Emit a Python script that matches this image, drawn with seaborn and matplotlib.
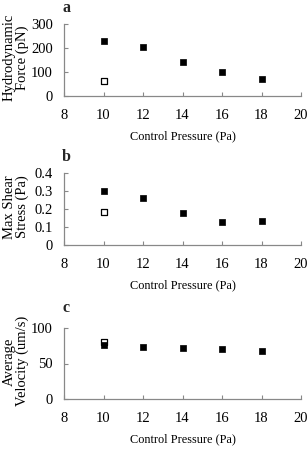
import matplotlib
matplotlib.use("Agg")
import matplotlib.pyplot as plt
import seaborn as sns
import pandas as pd

sns.set_theme(style="white")
plt.rcParams['font.family'] = ['Liberation Serif', 'DejaVu Serif']

pressure = [10, 12, 14, 16, 18]
force_filled = [231, 204, 143, 101, 69]
force_open = [61]
stress_filled = [0.30, 0.26, 0.175, 0.13, 0.135]
stress_open = [0.185]
velocity_filled = [76.5, 73.6, 72, 70, 67.5]
velocity_open = [80]
open_pressure = [10]

panels = [
    ("a", "Hydrodynamic\nForce (pN)", force_filled, force_open, (0, 300), [0, 100, 200, 300], ["0", "100", "200", "300"]),
    ("b", "Max Shear\nStress (Pa)", stress_filled, stress_open, (0, 0.4), [0, 0.1, 0.2, 0.3, 0.4], ["0", "0.1", "0.2", "0.3", "0.4"]),
    ("c", "Average\nVelocity (um/s)", velocity_filled, velocity_open, (0, 100), [0, 50, 100], ["0", "50", "100"]),
]

W, H = 307, 449
fig = plt.figure(figsize=(W / 100, H / 100), dpi=100)
rects = [(64, 24, 96), (64, 173, 245), (64, 328, 399)]
label_base = [12.5, 161, 312]
xticks = [8, 10, 12, 14, 16, 18, 20]

for (label, ylab, filled, opn, ylim, yt, ytl), (l, t, b), lb in zip(panels, rects, label_base):
    ax = fig.add_axes([l / W, 1 - b / H, (301 - l) / W, (b - t) / H])
    df = pd.DataFrame({"x": pressure, "y": filled})
    dfo = pd.DataFrame({"x": open_pressure, "y": opn})
    sns.scatterplot(data=dfo, x="x", y="y", ax=ax, marker="s", s=15,
                    facecolor="white", edgecolor="black", linewidth=0.9, zorder=3)
    sns.scatterplot(data=df, x="x", y="y", ax=ax, marker="s", s=20,
                    color="black", edgecolor="black", linewidth=0.5, zorder=4)
    ax.set_xlim(8, 20)
    ax.set_ylim(*ylim)
    ax.set_xticks(xticks)
    ax.set_xticklabels([str(v) for v in xticks])
    ax.set_yticks(yt)
    ax.set_yticklabels(ytl)
    for s in ["top", "right"]:
        ax.spines[s].set_visible(False)
    for s in ["left", "bottom"]:
        ax.spines[s].set_color("#888888")
        ax.spines[s].set_linewidth(0.9)
    ax.tick_params(axis="both", direction="in", length=3, width=0.8, color="#888888",
                   labelsize=10.5, labelcolor="black", left=True, bottom=True)
    ax.tick_params(axis="x", pad=9.5)
    ax.tick_params(axis="y", pad=8)
    ax.set_xlabel("Control Pressure (Pa)", fontsize=8.8, labelpad=6, color="black")
    ax.set_ylabel(ylab, fontsize=10.5, color="black", linespacing=0.95)
    ax.yaxis.set_label_coords((29 - l) / (301 - l), 0.53)
    fig.text(l / W - 0.006, 1 - lb / H, label, fontsize=11.5, fontweight="bold",
             ha="left", va="baseline")

fig.savefig("out.png", dpi=100)
